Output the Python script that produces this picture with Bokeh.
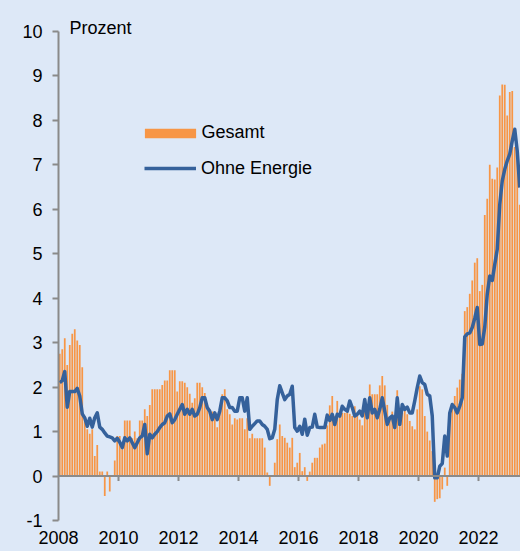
from bokeh.plotting import figure
from bokeh.models import (Range1d, FixedTicker, Legend, LegendItem, Label, Span,
                          ColumnDataSource)
from bokeh.embed import file_html
from bokeh.resources import INLINE

# ---------------- data ----------------
start_year = 2008
year_ticks = [2008, 2010, 2012, 2014, 2016, 2018, 2020, 2022]
zero_ticks = [2010, 2012, 2014, 2016, 2018, 2020, 2022]
y_ticks = [-1, 0, 1, 2, 3, 4, 5, 6, 7, 8, 9, 10]
y_tick_labels = {t: str(t) for t in y_ticks}   # plain hyphen for "-1"

# Monthly values, Jan 2008 .. May 2023 (Prozent)
gesamt = [
    2.75, 2.85, 3.1, 2.5, 2.95, 3.2, 3.3, 3.05, 2.95, 2.45, 1.35, 1.05,      # 2008
    0.95, 1.05, 0.45, 0.7, 0.1, 0.1, -0.45, 0.1, -0.35, 0.0, 0.35, 0.9,      # 2009
    0.9, 0.6, 1.25, 1.25, 1.25, 0.85, 1.0, 0.85, 1.25, 1.25, 1.5, 1.35,      # 2010
    1.6, 1.95, 1.95, 1.95, 1.95, 2.05, 2.15, 2.15, 2.38, 2.38, 2.38, 1.9,    # 2011
    2.13, 2.13, 2.1, 2.0, 1.85, 1.65, 1.75, 2.1, 2.1, 2.0, 1.87, 1.6,       # 2012
    1.5, 1.45, 1.4, 1.1, 1.45, 1.84, 1.95, 1.5, 1.39, 1.16, 1.3, 1.27,      # 2013
    1.3, 1.3, 1.05, 1.3, 0.85, 0.95, 0.85, 0.85, 0.85, 0.85, 0.64, 0.08,    # 2014
    -0.22, 0.0, 0.3, 0.83, 1.16, 0.9, 0.86, 0.75, 0.64, 0.86, 0.2, 0.3,     # 2015
    0.52, 0.11, 0.2, -0.11, 0.1, 0.3, 0.41, 0.41, 0.64, 0.71, 0.73, 1.14,   # 2016
    1.59, 1.8, 1.35, 1.69, 1.4, 1.42, 1.42, 1.5, 1.4, 1.35, 1.57, 1.4,      # 2017
    1.27, 1.14, 1.54, 1.31, 2.06, 1.84, 1.84, 1.84, 2.04, 2.25, 2.04, 1.6,  # 2018
    1.3, 1.45, 1.09, 1.93, 1.12, 1.42, 1.5, 1.39, 1.24, 1.12, 1.05, 1.5,    # 2019
    2.02, 1.95, 1.35, 1.0, 0.8, 0.56, -0.58, -0.52, -0.5, -0.3, 0.19, -0.22,  # 2020
    1.42, 1.61, 1.8, 1.99, 2.17, 2.3, 3.71, 3.8, 4.1, 4.4, 4.8, 4.9,        # 2021
    4.16, 4.3, 5.87, 6.24, 7.0, 6.69, 6.67, 6.94, 8.56, 8.81, 8.8, 8.11,    # 2022
    8.64, 8.66, 7.4, 7.2, 6.1,                                              # 2023
]

ohne_energie = [
    2.1, 2.15, 2.35, 1.55, 1.9, 1.9, 1.9, 1.97, 1.8, 1.4, 1.31, 1.12,       # 2008
    1.3, 1.1, 1.31, 1.42, 1.1, 1.05, 0.97, 0.9, 0.88, 0.86, 0.79, 0.85,     # 2009
    0.76, 0.64, 0.86, 0.79, 0.86, 0.75, 0.64, 0.75, 0.86, 0.9, 1.16, 0.5,   # 2010
    0.94, 0.86, 0.94, 1.0, 1.09, 1.16, 1.2, 1.35, 1.4, 1.2, 1.27, 1.39,     # 2011
    1.5, 1.61, 1.39, 1.5, 1.39, 1.5, 1.35, 1.39, 1.54, 1.76, 1.76, 1.54,    # 2012
    1.46, 1.27, 1.42, 1.27, 1.46, 1.76, 1.76, 1.69, 1.54, 1.54, 1.46, 1.46, # 2013
    1.76, 1.76, 1.46, 1.76, 1.05, 1.12, 1.18, 1.24, 1.24, 1.16, 1.12, 1.05, # 2014
    0.84, 0.86, 1.05, 1.72, 2.03, 1.87, 1.72, 1.8, 1.84, 2.02, 1.09, 1.01,  # 2015
    1.12, 0.94, 1.28, 0.92, 1.09, 1.1, 1.39, 1.1, 1.09, 1.09, 1.09, 1.37,   # 2016
    1.25, 1.39, 1.16, 1.39, 1.35, 1.57, 1.5, 1.46, 1.69, 1.54, 1.35, 1.39,  # 2017
    1.46, 1.35, 1.72, 1.31, 1.76, 1.42, 1.5, 1.31, 1.5, 1.76, 1.46, 1.16,   # 2018
    1.31, 1.35, 1.09, 1.76, 1.16, 1.61, 1.5, 1.55, 1.42, 1.42, 1.69, 1.99,  # 2019
    2.25, 2.1, 2.06, 1.84, 1.8, 1.35, -0.04, -0.04, 0.22, 0.28, 0.9, 0.45,  # 2020
    1.42, 1.61, 1.54, 1.42, 1.57, 1.76, 3.13, 3.2, 3.22, 3.34, 3.55, 3.79,  # 2021
    2.96, 2.97, 3.35, 4.09, 4.5, 4.4, 4.76, 5.1, 6.11, 6.64, 6.9, 7.09,     # 2022
    7.24, 7.54, 7.8, 7.31, 6.49,                                            # 2023
]

series_labels = ["Gesamt", "Ohne Energie"]
y_title = "Prozent"

# ---------------- styling / layout ----------------
BG = "#DDE8F7"
ORANGE = "#F79646"
BLUE = "#35619B"
AXIS = "#8A8A8A"
FONT = "Liberation Sans"
FS = "18px"

W, H = 520, 551
LEFT, BOTTOM = 58, 27          # frame borders in px
Y_TOP_PX, Y_MIN_PX = 31.0, 520.0  # pixel rows of the 10 and -1 ticks
px_per_unit = (Y_MIN_PX - Y_TOP_PX) / 11.0
frame_bottom = H - BOTTOM
y_start = -1 - (frame_bottom - Y_MIN_PX) / px_per_unit
y_end = 10 + Y_TOP_PX / px_per_unit
px_per_year = 30.0
x_end = start_year + (W - LEFT) / px_per_year

n = len(gesamt)
months = [start_year + (i + 0.5) / 12.0 for i in range(n)]
src = ColumnDataSource(dict(x=months, gesamt=gesamt, ohne=ohne_energie))

p = figure(width=W, height=H,
           x_range=Range1d(start_year, x_end), y_range=Range1d(y_start, y_end),
           output_backend="svg", toolbar_location=None,
           min_border_left=LEFT, min_border_right=0, min_border_top=0,
           min_border_bottom=BOTTOM,
           background_fill_color=BG, border_fill_color=BG, outline_line_color=None)

p.xgrid.grid_line_color = None
p.ygrid.grid_line_color = None

# y axis
ya = p.yaxis[0]
ya.ticker = FixedTicker(ticks=y_ticks)
ya.major_label_overrides = y_tick_labels
ya.bounds = (-1, 10)
ya.axis_line_color = AXIS
ya.axis_line_width = 2
ya.major_tick_line_color = AXIS
ya.major_tick_line_width = 2
ya.major_tick_out = 6
ya.major_tick_in = 0
ya.minor_tick_line_color = None
ya.major_label_standoff = 10
ya.major_label_text_font = FONT
ya.major_label_text_font_size = FS
ya.major_label_text_color = "#000000"

# x axis (labels only, at bottom)
xa = p.xaxis[0]
xa.ticker = FixedTicker(ticks=year_ticks)
xa.axis_line_color = None
xa.major_tick_line_color = None
xa.minor_tick_line_color = None
xa.major_tick_out = 0
xa.major_tick_in = 0
xa.major_label_standoff = 6
xa.major_label_text_font = FONT
xa.major_label_text_font_size = FS
xa.major_label_text_color = "#000000"

bars = p.vbar(x="x", top="gesamt", bottom=0, width=0.7 / 12.0, source=src,
              fill_color=ORANGE, line_color=None)

# zero line with small ticks below it
p.add_layout(Span(location=0, dimension="width", line_color=AXIS, line_width=2))
tick_len = 5.0 / px_per_unit
p.segment(x0=zero_ticks, x1=zero_ticks, y0=[0] * len(zero_ticks),
          y1=[-tick_len] * len(zero_ticks), line_color=AXIS, line_width=2)

line = p.line(x="x", y="ohne", source=src, line_color=BLUE, line_width=3.5,
              line_join="round")

shift = frame_bottom - Y_MIN_PX
leg1 = Legend(items=[LegendItem(label=series_labels[0], renderers=[bars])],
              location=(79.6, 377.0 + shift), glyph_width=64, glyph_height=12,
              label_height=20, label_standoff=0, padding=0, margin=0,
              border_line_color=None, background_fill_alpha=0,
              label_text_font=FONT, label_text_font_size=FS,
              label_text_color="#000000")
leg2 = Legend(items=[LegendItem(label=series_labels[1], renderers=[line])],
              location=(86, 341.5 + shift), glyph_width=52, glyph_height=12,
              label_height=20, label_standoff=5, padding=0, margin=0,
              border_line_color=None, background_fill_alpha=0,
              label_text_font=FONT, label_text_font_size=FS,
              label_text_color="#000000")
p.add_layout(leg1)
p.add_layout(leg2)

p.add_layout(Label(x=start_year + 11.0 / px_per_year, y=10 + (Y_TOP_PX - 27.5) / px_per_unit,
                   text=y_title, text_font=FONT, text_font_size=FS,
                   text_color="#000000", text_baseline="alphabetic"))

template = """
{% block preamble %}
<style>html, body { margin: 0; padding: 0; background-color: #DDE8F7; overflow: hidden; }</style>
{% endblock %}
"""
open("out.html", "w").write(file_html(p, INLINE, title="Inflation", template=template))
